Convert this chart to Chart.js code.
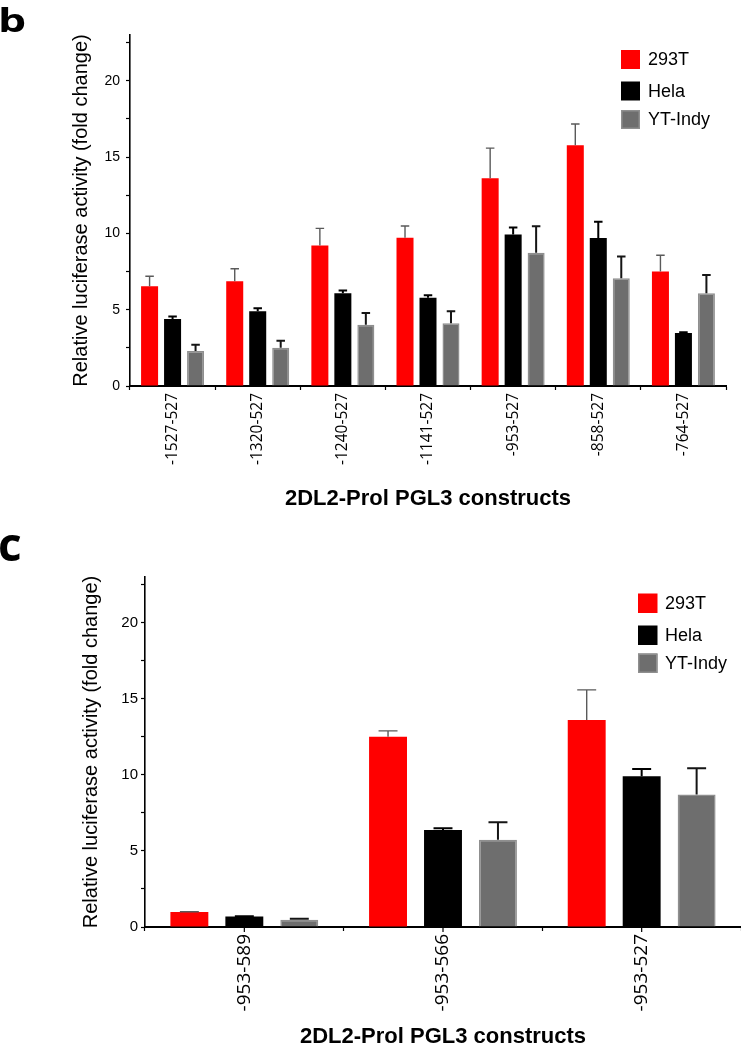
<!DOCTYPE html>
<html>
<head>
<meta charset="utf-8">
<script src="https://cdn.jsdelivr.net/npm/chart.js@4/dist/chart.umd.min.js"></script>
<style>
html,body{margin:0;padding:0;background:#fff;width:741px;height:1050px;overflow:hidden}
#wb{position:absolute;left:0;top:0;width:741px;height:520px}
#wc{position:absolute;left:0;top:520px;width:741px;height:530px}
canvas{display:block}
</style>
</head>
<body>
<div id="wb"><canvas id="cb" width="741" height="520"></canvas></div>
<div id="wc"><canvas id="cc" width="741" height="530"></canvas></div>
<script>
// ---------- data ----------
const seriesNames = ['293T', 'Hela', 'YT-Indy'];
const yTickLabels = [0, 5, 10, 15, 20];
const xAxisTitle = '2DL2-Prol PGL3 constructs';
const yAxisTitle = 'Relative luciferase activity (fold change)';

// panel b
const categoriesB = ['-1527-527', '-1320-527', '-1240-527', '-1141-527', '-953-527', '-858-527', '-764-527'];
const b293T    = [6.53, 6.86, 9.21, 9.71, 13.62, 15.77, 7.50];
const bHela    = [4.39, 4.89, 6.07, 5.79, 9.93, 9.69, 3.47];
const bYT      = [2.30, 2.50, 4.01, 4.12, 8.73, 7.06, 6.07];
const b293TErr = [0.66, 0.82, 1.12, 0.77, 1.97, 1.40, 1.07];
const bHelaErr = [0.17, 0.20, 0.18, 0.15, 0.46, 1.08, 0.06];
const bYTErr   = [0.40, 0.46, 0.77, 0.77, 1.73, 1.43, 1.21];

// panel c
const categoriesC = ['-953-589', '-953-566', '-953-527'];
const c293T    = [0.98, 12.51, 13.60];
const cHela    = [0.69, 6.38, 9.91];
const cYT      = [0.48, 5.73, 8.71];
const c293TErr = [0.02, 0.38, 1.98];
const cHelaErr = [0.02, 0.11, 0.47];
const cYTErr   = [0.07, 1.16, 1.73];

// ---------- styles ----------
const fillColors   = ['#ff0000', '#000000', '#6e6e6e'];
const borderColors = ['#ff0000', '#000000', '#8f8f8f'];
const borderWidths = [0, 0, 1.5];
const errColors    = ['#5a5a5a', '#000000', '#151515'];
const errWidths    = [1.4, 2, 2];

const errorBarPlugin = {
  id: 'errorBars',
  afterDatasetsDraw(chart) {
    const ctx = chart.ctx, ys = chart.scales.y;
    chart.data.datasets.forEach((ds, i) => {
      const meta = chart.getDatasetMeta(i);
      meta.data.forEach((bar, j) => {
        const p = bar.getProps(['x', 'y', 'width'], true);
        const yTop = ys.getPixelForValue(ds.data[j] + ds.errorValues[j]);
        const half = p.width * 0.25;
        ctx.save();
        ctx.strokeStyle = ds.errorColor;
        ctx.lineWidth = ds.errorWidth;
        ctx.beginPath();
        ctx.moveTo(p.x, p.y);
        ctx.lineTo(p.x, yTop);
        ctx.moveTo(p.x - half, yTop);
        ctx.lineTo(p.x + half, yTop);
        ctx.stroke();
        ctx.restore();
      });
    });
  }
};

function legendPlugin(cfg) {
  return {
    id: 'customLegend',
    afterDraw(chart) {
      const ctx = chart.ctx;
      ctx.save();
      chart.data.datasets.forEach((ds, i) => {
        const y = cfg.rows[i];
        ctx.fillStyle = ds.backgroundColor;
        ctx.fillRect(cfg.x, y, cfg.box, cfg.box);
        if (ds.borderWidth) {
          ctx.strokeStyle = ds.borderColor;
          ctx.lineWidth = 1.5;
          ctx.strokeRect(cfg.x + 0.75, y + 0.75, cfg.box - 1.5, cfg.box - 1.5);
        }
        ctx.fillStyle = '#000';
        ctx.font = '18px "Liberation Sans", Arial, sans-serif';
        ctx.textBaseline = 'middle';
        ctx.textAlign = 'left';
        ctx.fillText(ds.label, cfg.textX, y + cfg.box / 2 + 1);
      });
      ctx.restore();
    }
  };
}

function letterPlugin(cfg) {
  return {
    id: 'panelLetter',
    afterDraw(chart) {
      const ctx = chart.ctx;
      ctx.save();
      ctx.fillStyle = '#000';
      ctx.font = cfg.font;
      ctx.textBaseline = 'alphabetic';
      ctx.textAlign = 'left';
      ctx.translate(cfg.x, cfg.y);
      ctx.scale(cfg.sx, 1);
      ctx.fillText(cfg.text, 0, 0);
      ctx.restore();
    }
  };
}

function centerTickPlugin(len) {
  return {
    id: 'centerTicks',
    afterDraw(chart) {
      const ctx = chart.ctx, xs = chart.scales.x;
      ctx.save();
      ctx.strokeStyle = '#000';
      ctx.lineWidth = 1.2;
      ctx.beginPath();
      chart.data.labels.forEach((l, j) => {
        const x = xs.getPixelForValue(j);
        ctx.moveTo(x, xs.top);
        ctx.lineTo(x, xs.top + len);
      });
      ctx.stroke();
      ctx.restore();
    }
  };
}

function makeChart(id, cats, values, errors, cfg, extraPlugins) {
  return new Chart(document.getElementById(id), {
    type: 'bar',
    data: {
      labels: cats,
      datasets: seriesNames.map((name, i) => ({
        label: name,
        data: values[i],
        errorValues: errors[i],
        backgroundColor: fillColors[i],
        borderColor: borderColors[i],
        borderWidth: borderWidths[i],
        categoryPercentage: cfg.catPct,
        barPercentage: cfg.barPct,
        errorColor: errColors[i],
        errorWidth: errWidths[i]
      }))
    },
    options: {
      responsive: false,
      animation: false,
      devicePixelRatio: 1,
      layout: { padding: { left: 0, top: cfg.top, right: cfg.right, bottom: 0 } },
      plugins: { legend: { display: false }, tooltip: { enabled: false } },
      scales: {
        x: {
          offset: true,
          grid: { display: true, drawOnChartArea: false, drawTicks: true, tickLength: 4, tickColor: '#000', tickWidth: 1.2, offset: true },
          border: { display: true, color: '#000', width: 2 },
          ticks: {
            minRotation: 90, maxRotation: 90, autoSkip: false, padding: cfg.xTickPad, color: '#000',
            font: { family: '"Open Sans"', size: cfg.xFont }
          },
          title: {
            display: true, text: xAxisTitle, color: '#000',
            font: { family: '"Liberation Sans"', size: 22, weight: 'bold' },
            padding: { top: 0, bottom: cfg.xTitlePad }
          },
          afterFit: s => { s.height = cfg.xHeight; }
        },
        y: {
          min: 0, max: 23,
          grid: { display: true, drawOnChartArea: false, drawTicks: true, tickLength: 4, tickColor: '#000', tickWidth: 1.2 },
          border: { display: true, color: '#000', width: 1.6 },
          ticks: {
            stepSize: 2.5, includeBounds: false, autoSkip: false, padding: cfg.yTickPad, color: '#000',
            font: { family: '"Liberation Sans"', size: cfg.yFont },
            callback: v => yTickLabels.includes(v) ? String(v) : ''
          },
          title: {
            display: true, text: yAxisTitle, color: '#000',
            font: { family: '"Liberation Sans"', size: 20 },
            padding: { top: cfg.yTitlePad, bottom: 0 }
          },
          afterFit: s => { s.width = cfg.yWidth; }
        }
      }
    },
    plugins: [errorBarPlugin].concat(extraPlugins)
  });
}

makeChart('cb', categoriesB,
  [b293T, bHela, bYT], [b293TErr, bHelaErr, bYTErr],
  { catPct: 0.81, barPct: 0.74, top: 35, right: 15, xHeight: 134, yWidth: 130,
    xTickPad: 3, xFont: 15.5, xTitlePad: 8, yTickPad: 6, yFont: 14, yTitlePad: 69 },
  [legendPlugin({ x: 621, box: 19, rows: [50, 81.5, 110], textX: 648 }),
   letterPlugin({ text: 'b', font: 'bold 33px "Open Sans"', x: -2, y: 32, sx: 1.35 })]);

makeChart('cc', categoriesC,
  [c293T, cHela, cYT], [c293TErr, cHelaErr, cYTErr],
  { catPct: 0.83, barPct: 0.69, top: 57, right: 0, xHeight: 123, yWidth: 145,
    xTickPad: 3, xFont: 19, xTitlePad: 0, yTickPad: 3, yFont: 15, yTitlePad: 79 },
  [legendPlugin({ x: 638, box: 19.5, rows: [73.5, 105.5, 133.5], textX: 665 }),
   letterPlugin({ text: 'c', font: 'bold 46px "Open Sans"', x: -2, y: 40.5, sx: 1 }),
   centerTickPlugin(5)]);
</script>
</body>
</html>
